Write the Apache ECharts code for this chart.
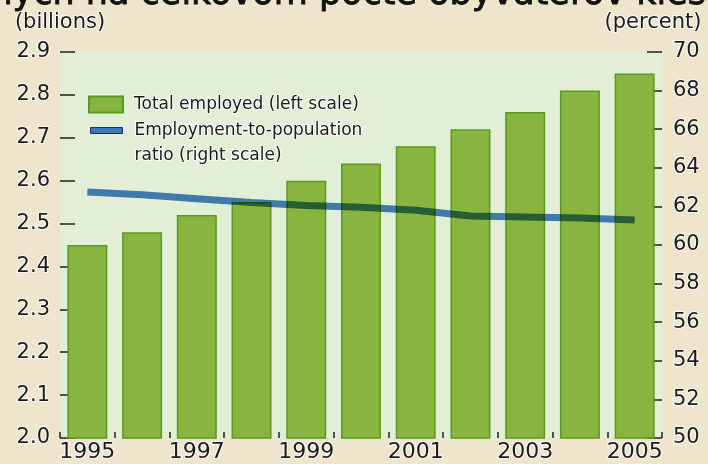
<!DOCTYPE html>
<html>
<head>
<meta charset="utf-8">
<script src="https://cdn.jsdelivr.net/npm/echarts@6/dist/echarts.min.js"></script>
<style>
  html, body { margin: 0; padding: 0; background: #efe5cd; }
  #chart { width: 708px; height: 464px; }
</style>
</head>
<body>
<div id="chart"></div>
<script>
// Years on the category axis
const years = ['1995', '1996', '1997', '1998', '1999', '2000', '2001', '2002', '2003', '2004', '2005'];
// Total employed, billions (left scale)
const totalEmployed = [2.45, 2.48, 2.52, 2.55, 2.60, 2.64, 2.68, 2.72, 2.76, 2.81, 2.85];
// Employment-to-population ratio, percent (right scale)
const employmentRatio = [62.75, 62.6, 62.4, 62.2, 62.05, 61.95, 61.8, 61.5, 61.45, 61.4, 61.3];
// Axis ranges and tick steps
const leftScale = [2.0, 2.9, 0.1];
const rightScale = [50, 70, 2];

const barName = 'Total employed (left scale)';
const lineName = 'Employment-to-population ratio (right scale)';
const headline = 'ných na celkovom počte obyvateľov kles';

const FONT = 'DejaVu Sans';
const INK = '#1b1b1b';
const halo = { textBorderColor: 'rgba(255,255,255,0.85)', textBorderWidth: 2 };

const chart = echarts.init(document.getElementById('chart'), null, { renderer: 'canvas' });

chart.setOption({
  backgroundColor: '#efe5cd',
  animation: false,
  textStyle: { fontFamily: FONT },
  graphic: [{
    type: 'text',
    left: -10,
    top: -23,
    style: { text: headline, font: '35px "DejaVu Sans"', fill: '#111', stroke: '#111', lineWidth: 0.8 },
    z: 10
  }],
  grid: {
    left: 60, right: 46, top: 52, bottom: 26,
    show: true, backgroundColor: '#e2eed6', borderWidth: 0
  },
  legend: [{
    data: [barName],
    left: 88, top: 95,
    padding: 0,
    itemWidth: 34, itemHeight: 16,
    icon: 'rect',
    textStyle: Object.assign({ fontFamily: FONT, fontSize: 17, color: INK, padding: [0, 0, 0, 6] }, halo)
  }, {
    data: [{ name: lineName, itemStyle: { color: '#3f75bd', borderColor: '#1c2f72', borderWidth: 1 } }],
    left: 90, top: 93,
    padding: 0,
    itemWidth: 32, itemHeight: 6,
    icon: 'rect',
    // leading blank line keeps the first text line level with the key
    formatter: () => '\nEmployment-to-population\nratio (right scale)',
    textStyle: Object.assign({ fontFamily: FONT, fontSize: 17, color: INK, lineHeight: 25, padding: [0, 0, 0, 7] }, halo)
  }],
  xAxis: {
    type: 'category',
    data: years,
    axisLine: { show: false },
    axisTick: { show: true, inside: true, length: 6, interval: 0, lineStyle: { color: '#222', width: 1.5 } },
    axisLabel: Object.assign({ interval: 1, fontSize: 22, color: INK, margin: 3, fontFamily: FONT }, halo)
  },
  yAxis: [{
    type: 'value',
    min: leftScale[0], max: leftScale[1], interval: leftScale[2],
    name: '(billions)',
    nameLocation: 'end',
    nameGap: 29,
    nameTextStyle: Object.assign({ fontSize: 21, color: INK, align: 'center', verticalAlign: 'middle', fontFamily: FONT }, halo),
    splitLine: { show: false },
    axisLine: { show: false },
    axisTick: { show: true, inside: true, length: 15, lineStyle: { color: '#222', width: 1.5 } },
    axisLabel: Object.assign({ fontSize: 21, color: INK, margin: 10, fontFamily: FONT, formatter: v => v.toFixed(1) }, halo)
  }, {
    type: 'value',
    position: 'right',
    min: rightScale[0], max: rightScale[1], interval: rightScale[2],
    name: '(percent)',
    nameLocation: 'end',
    nameGap: 29,
    nameTextStyle: Object.assign({ fontSize: 21, color: INK, align: 'center', verticalAlign: 'middle', padding: [0, 18, 0, 0], fontFamily: FONT }, halo),
    splitLine: { show: false },
    axisLine: { show: false },
    axisTick: { show: true, inside: true, length: 15, lineStyle: { color: '#222', width: 1.5 } },
    axisLabel: Object.assign({ fontSize: 21, color: INK, margin: 11, fontFamily: FONT }, halo)
  }],
  series: [{
    name: barName,
    type: 'bar',
    yAxisIndex: 0,
    data: totalEmployed,
    barCategoryGap: '27%',
    itemStyle: { color: '#87b53f', borderColor: '#5a9a1d', borderWidth: 1.5 },
    z: 2
  }, {
    name: lineName,
    type: 'line',
    yAxisIndex: 1,
    data: employmentRatio,
    symbol: 'none',
    blendMode: 'multiply',
    lineStyle: { color: '#4a82cc', width: 7 },
    z: 3
  }]
});
</script>
</body>
</html>
